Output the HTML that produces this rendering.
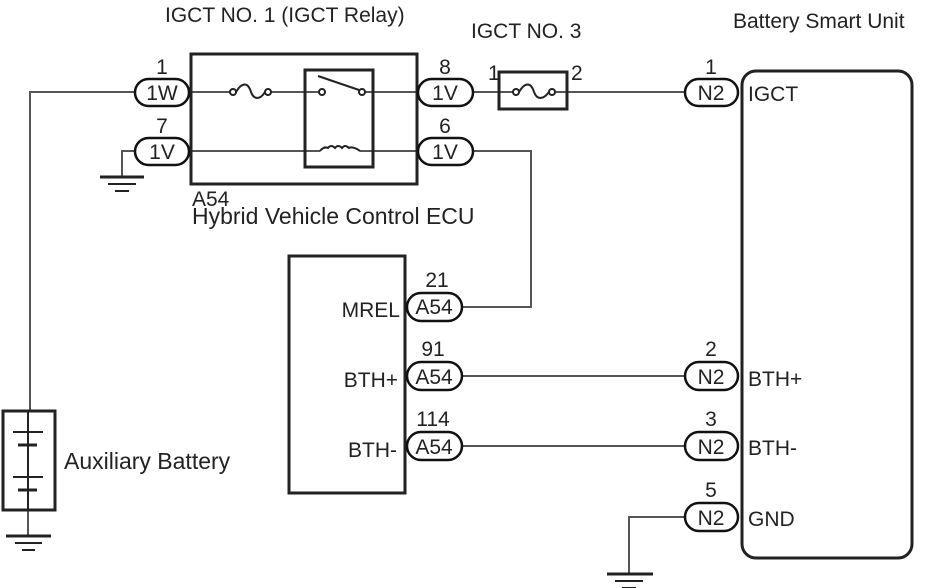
<!DOCTYPE html>
<html><head><meta charset="utf-8"><style>
html,body{margin:0;padding:0;background:#fff;}
svg{display:block;font-family:"Liberation Sans",sans-serif;}
</style></head><body>
<svg width="926" height="588" viewBox="0 0 926 588" xmlns="http://www.w3.org/2000/svg">
<g fill="none" stroke="#555" stroke-width="2">
<polyline points="135,92 30,92 30,411"/>
<line x1="28" y1="510" x2="28" y2="536"/>
<polyline points="135,151 122,151 122,177"/>
<line x1="191" y1="92" x2="230" y2="92"/>
<line x1="270" y1="92" x2="322" y2="92"/>
<line x1="362" y1="92" x2="417" y2="92"/>
<line x1="191" y1="151" x2="320" y2="151"/>
<line x1="360" y1="151" x2="417" y2="151"/>
<line x1="473" y1="92" x2="513" y2="92"/>
<line x1="555" y1="92" x2="685" y2="92"/>
<polyline points="473,151 531,151 531,307 462,307"/>
<line x1="462" y1="376" x2="685" y2="376"/>
<line x1="462" y1="446" x2="685" y2="446"/>
<polyline points="685,517 629,517 629,574"/>
</g>
<g fill="none" stroke="#222" stroke-width="3">
<rect x="191" y="54" width="226" height="130"/>
<rect x="305" y="70" width="68" height="97"/>
<rect x="499" y="72" width="68" height="37"/>
<rect x="289" y="256" width="116" height="237"/>
<rect x="742" y="71" width="170" height="487" rx="14"/>
<rect x="3" y="411" width="52" height="99"/>
</g>
<g stroke="#222" stroke-width="2" fill="none">
<circle cx="233" cy="92" r="3" fill="#fff"/><circle cx="268" cy="92" r="3" fill="#fff"/>
<path d="M236,92 C242,82 248,82 251,92 C254,100 260,100 265,92"/>
<circle cx="516" cy="92" r="3" fill="#fff"/><circle cx="552" cy="92" r="3" fill="#fff"/>
<path d="M519,92 C525,82 531,82 534,92 C537,100 543,100 549,92"/>
<circle cx="322" cy="92" r="3" fill="#fff"/><circle cx="362" cy="92" r="3" fill="#fff"/>
<line x1="318" y1="76" x2="359" y2="90"/>
<path d="M320,151 Q324,146 328,148 Q331,144 335,148 Q338,144 342,148 Q345,144 349,148 Q353,146 360,151"/>
<line x1="28" y1="411" x2="28" y2="510"/>
<line x1="13" y1="432" x2="43" y2="432"/><line x1="18" y1="445" x2="37" y2="445" stroke-width="3"/>
<line x1="13" y1="477" x2="43" y2="477"/><line x1="18" y1="490" x2="37" y2="490" stroke-width="3"/>
<line x1="6" y1="536" x2="51" y2="536" stroke-width="3"/><line x1="15" y1="543" x2="42" y2="543"/><line x1="22" y1="550" x2="35" y2="550"/>
<line x1="100" y1="177" x2="144" y2="177" stroke-width="3"/><line x1="108" y1="184" x2="136" y2="184"/><line x1="115" y1="191" x2="129" y2="191"/>
<line x1="607" y1="574" x2="653" y2="574" stroke-width="3"/><line x1="615" y1="581" x2="643" y2="581"/><line x1="622" y1="588" x2="636" y2="588"/>
</g>
<g stroke="#111" stroke-width="2.5" fill="#fff">
<rect x="135" y="79" width="54" height="27" rx="13.5"/>
<rect x="135" y="138" width="54" height="27" rx="13.5"/>
<rect x="418" y="79" width="55" height="27" rx="13.5"/>
<rect x="418" y="138" width="55" height="27" rx="13.5"/>
<rect x="407" y="293" width="55" height="28" rx="14"/>
<rect x="407" y="362" width="55" height="28" rx="14"/>
<rect x="407" y="432" width="55" height="28" rx="14"/>
<rect x="685" y="79" width="53" height="27" rx="13.5"/>
<rect x="685" y="362" width="53" height="28" rx="14"/>
<rect x="685" y="432" width="53" height="28" rx="14"/>
<rect x="685" y="503" width="53" height="28" rx="14"/>
</g>
<g fill="#222" font-size="21">
<g text-anchor="middle">
<text x="162" y="100">1W</text><text x="162" y="159">1V</text>
<text x="445" y="100">1V</text><text x="445" y="159">1V</text>
<text x="434" y="314">A54</text><text x="434" y="384">A54</text><text x="434" y="454">A54</text>
<text x="711" y="100">N2</text><text x="711" y="384">N2</text><text x="711" y="454">N2</text><text x="711" y="525">N2</text>
<text x="162" y="74">1</text><text x="162" y="133">7</text>
<text x="445" y="74">8</text><text x="445" y="133">6</text>
<text x="437" y="287">21</text><text x="433" y="356">91</text><text x="433" y="426">114</text>
<text x="711" y="74">1</text><text x="711" y="356">2</text><text x="711" y="426">3</text><text x="711" y="497">5</text>
</g>
<text x="488" y="80">1</text><text x="571" y="80">2</text>
<text x="165" y="22">IGCT NO. 1 (IGCT Relay)</text>
<text x="471" y="38">IGCT NO. 3</text>
<text x="733" y="28">Battery Smart Unit</text>
<text x="192" y="206">A54</text>
<text x="192" y="224" font-size="23">Hybrid Vehicle Control ECU</text>
<text x="64" y="469" font-size="23">Auxiliary Battery</text>
<g text-anchor="end"><text x="400" y="317">MREL</text><text x="398" y="387">BTH+</text><text x="397" y="457">BTH-</text></g>
<text x="748" y="101">IGCT</text><text x="748" y="386">BTH+</text><text x="748" y="455">BTH-</text><text x="748" y="526">GND</text>
</g>
</svg>
</body></html>
